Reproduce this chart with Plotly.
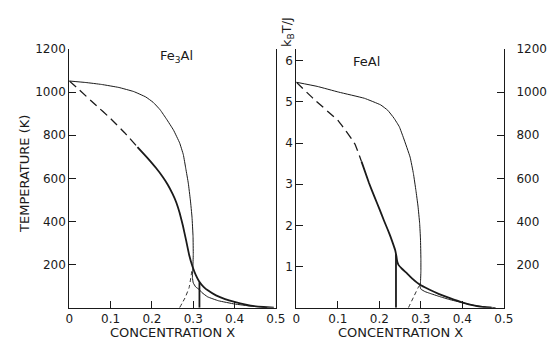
import plotly.graph_objects as go

# ---------------- Data: Fe3Al (left, temperature in K) ----------------
fe3al_thin_x = [0, 0.04, 0.078, 0.12, 0.156, 0.185, 0.203, 0.22, 0.235, 0.252, 0.267, 0.276,
                0.282, 0.288, 0.293, 0.297, 0.2995, 0.300, 0.299, 0.298, 0.300, 0.306, 0.314,
                0.321, 0.335, 0.361, 0.40, 0.44, 0.479]
fe3al_thin_T = [1052, 1045, 1036, 1022, 1003, 978, 953, 918, 876, 825, 765, 710,
                645, 578, 500, 420, 330, 246, 182, 140, 115, 96, 85,
                70, 50, 32, 17, 7, 0]
fe3al_dash_x = [0, 0.023, 0.062, 0.101, 0.135, 0.165]
fe3al_dash_T = [1052, 1013, 944, 876, 810, 745]
fe3al_dash2_x = [0.267, 0.280, 0.290, 0.297]
fe3al_dash2_T = [0, 45, 93, 175]
fe3al_thick_x = [0.165, 0.19, 0.21, 0.225, 0.238, 0.25, 0.259, 0.267, 0.275, 0.283, 0.29,
                 0.298, 0.306, 0.314, 0.325, 0.337, 0.355, 0.377, 0.40, 0.439, 0.47, 0.495]
fe3al_thick_T = [745, 693, 648, 610, 572, 528, 488, 440, 380, 310, 246,
                 192, 152, 123, 97, 78, 57, 40, 27, 9, 3, 0]
fe3al_vert_x = [0.315, 0.315]
fe3al_vert_T = [118, 0]

# ---------------- Data: FeAl (right, kT/J) ----------------
feal_thin_x = [0, 0.05, 0.102, 0.164, 0.203, 0.22, 0.235, 0.248, 0.258, 0.274, 0.282, 0.288,
               0.293, 0.297, 0.299, 0.300, 0.300, 0.299, 0.298, 0.300, 0.31, 0.321, 0.345,
               0.368, 0.40, 0.43, 0.46, 0.48]
feal_thin_k = [5.48, 5.38, 5.24, 5.09, 4.93, 4.8, 4.61, 4.4, 4.13, 3.66, 3.26, 2.85,
               2.47, 2.05, 1.67, 1.2, 0.88, 0.62, 0.52, 0.45, 0.39, 0.35, 0.27,
               0.2, 0.12, 0.05, 0.015, 0]
feal_dash_x = [0, 0.04, 0.102, 0.141, 0.157]
feal_dash_k = [5.48, 5.09, 4.53, 3.98, 3.55]
feal_dash2_x = [0.27, 0.282, 0.293, 0.298]
feal_dash2_k = [0, 0.25, 0.48, 0.56]
feal_thick_x = [0.157, 0.175, 0.188, 0.2, 0.211, 0.22, 0.227, 0.233, 0.238, 0.241, 0.243,
                0.246, 0.255, 0.266, 0.28, 0.297, 0.32, 0.344, 0.37, 0.399, 0.43, 0.454, 0.47]
feal_thick_k = [3.55, 3.03, 2.7, 2.4, 2.12, 1.9, 1.72, 1.55, 1.4, 1.25, 1.12,
                1.04, 0.94, 0.84, 0.70, 0.56, 0.44, 0.33, 0.23, 0.13, 0.05, 0.01, 0]
feal_vert_x = [0.240, 0.240]
feal_vert_k = [1.3, 0]

x_ticks = [0, 0.1, 0.2, 0.3, 0.4, 0.5]
x_ticktext = ["0", "0.1", "0.2", "0.3", "0.4", "0.5"]
T_ticks = [200, 400, 600, 800, 1000, 1200]
k_ticks = [1, 2, 3, 4, 5, 6]

INK = "#1a1a1a"
W, H = 549, 339
FONT = "DejaVu Sans"

fig = go.Figure()

def add(x, y, xa, ya, width, dash=None):
    fig.add_trace(go.Scatter(x=x, y=y, xaxis=xa, yaxis=ya, mode="lines",
                             line=dict(color=INK, width=width, dash=dash, shape="spline", smoothing=0.3),
                             showlegend=False, hoverinfo="skip"))

def addl(x, y, xa, ya, width):
    fig.add_trace(go.Scatter(x=x, y=y, xaxis=xa, yaxis=ya, mode="lines",
                             line=dict(color=INK, width=width),
                             showlegend=False, hoverinfo="skip"))

# Left panel
add(fe3al_thin_x, fe3al_thin_T, "x", "y", 1.0)
add(fe3al_dash_x, fe3al_dash_T, "x", "y", 1.3, "9px,5px")
add(fe3al_dash2_x, fe3al_dash2_T, "x", "y", 0.9, "4px,3px")
add(fe3al_thick_x, fe3al_thick_T, "x", "y", 1.8)
addl(fe3al_vert_x, fe3al_vert_T, "x", "y", 1.8)

# Right panel
add(feal_thin_x, feal_thin_k, "x2", "y2", 1.0)
add(feal_dash_x, feal_dash_k, "x2", "y2", 1.3, "9px,5px")
add(feal_dash2_x, feal_dash2_k, "x2", "y2", 0.9, "4px,3px")
add(feal_thick_x, feal_thick_k, "x2", "y2", 1.8)
addl(feal_vert_x, feal_vert_k, "x2", "y2", 1.8)

ydom = [(H - 307) / H, (H - 43) / H]
tickfont = dict(family=FONT, size=12, color=INK)
common_x = dict(range=[0, 0.5], tickvals=x_ticks, ticktext=x_ticktext, ticks="inside",
                ticklen=7, tickcolor=INK, showline=True, linecolor=INK, linewidth=1.2,
                showgrid=False, zeroline=False, tickfont=tickfont, fixedrange=True)
fig.update_layout(
    width=W, height=H, margin=dict(l=0, r=0, t=0, b=0),
    paper_bgcolor="white", plot_bgcolor="white",
    xaxis=dict(domain=[67 / W, 279 / W], anchor="y", **common_x),
    xaxis2=dict(domain=[300 / W, 513 / W], anchor="y2", **common_x),
    yaxis=dict(domain=ydom, anchor="x", range=[0, 1200], tickvals=T_ticks, ticks="inside",
               ticklen=7, tickcolor=INK, showline=True, mirror=True, linecolor=INK,
               linewidth=1.2, showgrid=False, zeroline=False, tickfont=tickfont),
    yaxis2=dict(domain=ydom, anchor="x2", range=[0, 264 / 42], tickvals=k_ticks, ticks="inside",
                ticklen=7, tickcolor=INK, showline=True, linecolor=INK, linewidth=1.2,
                showgrid=False, zeroline=False, tickfont=tickfont),
    yaxis3=dict(domain=ydom, anchor="x2", overlaying="y2", side="right", range=[0, 1200],
                tickvals=T_ticks, ticks="inside", ticklen=7, tickcolor=INK, showline=True,
                linecolor=INK, linewidth=1.2, showgrid=False, zeroline=False, tickfont=tickfont,
                ticklabelstandoff=9),
)
# trace that activates the right-hand temperature axis
fig.add_trace(go.Scatter(x=[0], y=[0], xaxis="x2", yaxis="y3", mode="lines",
                         line=dict(width=0), showlegend=False, hoverinfo="skip"))

labfont = dict(family=FONT, size=13, color=INK)
ann = [
    dict(text="CONCENTRATION X", x=(67 + 279) / 2 / W, y=(H - 332) / H),
    dict(text="CONCENTRATION X", x=(300 + 513) / 2 / W, y=(H - 332) / H),
    dict(text="TEMPERATURE (K)", x=21 / W, y=(H - 170) / H, textangle=-90),
    dict(text="k<sub>B</sub>T/J", x=291 / W, y=(H - 26) / H, textangle=-90),
    dict(text="Fe<sub>3</sub>Al", x=177 / W, y=(H - 51) / H),
    dict(text="FeAl", x=372 / W, y=(H - 56) / H),
]
for a in ann:
    fig.add_annotation(xref="paper", yref="paper", showarrow=False, font=labfont,
                       xanchor="center", yanchor="middle", **a)

fig.write_html("out.html")
